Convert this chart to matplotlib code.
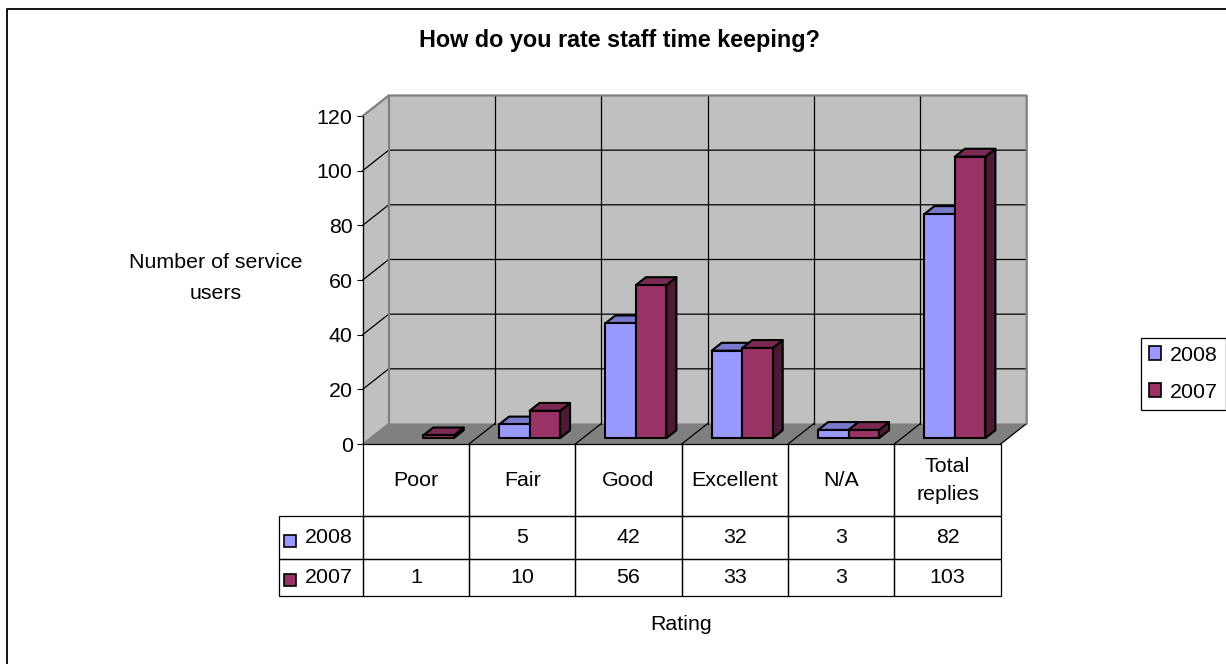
import numpy as np
import matplotlib
matplotlib.use('Agg')
import matplotlib.pyplot as plt
from matplotlib.patches import Polygon, Patch
from matplotlib.lines import Line2D

plt.rcParams['font.family'] = ['Liberation Sans', 'DejaVu Sans']

categories = ['Poor', 'Fair', 'Good', 'Excellent', 'N/A', 'Total\nreplies']
series_names = ['2008', '2007']
values_2008 = [np.nan, 5, 42, 32, 3, 82]
values_2007 = [1, 10, 56, 33, 3, 103]
y_ticks = [0, 20, 40, 60, 80, 100, 120]

colours_2008 = ['#9999FF', '#7A7ACC', '#5C5C99']
colours_2007 = ['#993366', '#7A2952', '#4D1A33']

W, H = 1226, 664
# front plane of the plot in pixels
LEFT, RIGHT, TOP, BOTTOM = 362.7, 1000.7, 116.0, 444.0
# how far the back wall sits behind the front plane
DEPTH_PX_X, DEPTH_PX_Y = 26.0, 20.5
FONT = 15.4


def fx(px):
    return px/W


def fy(py):
    return 1 - py/H


fig = plt.figure(figsize=(W/100, H/100), dpi=100)
ax = fig.add_axes([fx(LEFT), fy(BOTTOM), (RIGHT-LEFT)/W, (BOTTOM-TOP)/H])
ax.set_xlim(0, len(categories))
ax.set_ylim(0, 120)
ax.patch.set_visible(False)

DX = DEPTH_PX_X/((RIGHT-LEFT)/len(categories))
DY = DEPTH_PX_Y/((BOTTOM-TOP)/120)


def proj(x, v, d):
    return (x + d*DX, v + d*DY)


def face(points, colour, z, lw=1.5):
    ax.add_patch(Polygon([proj(*p) for p in points], closed=True, facecolor=colour,
                         edgecolor='black', linewidth=lw, joinstyle='round', zorder=z, clip_on=False))


n = len(categories)

# walls and floor
for pts, colour in [([(0, 0, 1), (n, 0, 1), (n, 120, 1), (0, 120, 1)], '#C0C0C0'),
                    ([(0, 0, 0), (0, 120, 0), (0, 120, 1), (0, 0, 1)], '#C0C0C0'),
                    ([(0, 0, 0), (n, 0, 0), (n, 0, 1), (0, 0, 1)], '#808080')]:
    ax.add_patch(Polygon([proj(*p) for p in pts], closed=True, facecolor=colour,
                         edgecolor='none', zorder=1, clip_on=False))

# gridlines
for t in y_ticks[1:-1]:
    xs, ys = zip(proj(0, t, 0), proj(0, t, 1), proj(n, t, 1))
    ax.plot(xs, ys, color='black', lw=0.9, zorder=2, clip_on=False)
for i in range(1, n):
    xs, ys = zip(proj(i, 0, 1), proj(i, 120, 1))
    ax.plot(xs, ys, color='black', lw=0.9, zorder=2, clip_on=False)
for i in range(1, n+1):
    xs, ys = zip(proj(i, 0, 0), proj(i, 0, 1))
    ax.plot(xs, ys, color='black', lw=0.9, zorder=2, clip_on=False)

# grey wall edges
xs, ys = zip(proj(0, 120, 0), proj(0, 120, 1), proj(n, 120, 1), proj(n, 0, 1))
ax.plot(xs, ys, color='#808080', lw=1.6, zorder=3, clip_on=False)
xs, ys = zip(proj(0, 120, 1), proj(0, 0, 1))
ax.plot(xs, ys, color='#808080', lw=1.6, zorder=3, clip_on=False)
xs, ys = zip(proj(0, 0, 0), proj(0, 0, 1))
ax.plot(xs, ys, color='#808080', lw=1.0, zorder=3, clip_on=False)

# bars
gap, bar_w = 0.2125, 0.2869
d0, d1 = 0.285, 0.67
z = 5
for i in range(n):
    for k, (vals, cols) in enumerate([(values_2008, colours_2008), (values_2007, colours_2007)]):
        v = vals[i]
        if np.isnan(v):
            continue
        x0 = i + gap + k*bar_w
        x1 = x0 + bar_w
        face([(x1, 0, d0), (x1, 0, d1), (x1, v, d1), (x1, v, d0)], cols[2], z)
        face([(x0, v, d0), (x1, v, d0), (x1, v, d1), (x0, v, d1)], cols[1], z)
        face([(x0, 0, d0), (x1, 0, d0), (x1, v, d0), (x0, v, d0)], cols[0], z)
        z += 1

# value axis
for s in ['top', 'right', 'bottom']:
    ax.spines[s].set_visible(False)
ax.spines['left'].set_linewidth(0.9)
ax.spines['left'].set_zorder(4)
ax.set_xticks([])
ax.set_yticks(y_ticks)
ax.tick_params(axis='y', length=4.2, width=0.8, pad=3, labelsize=FONT)

# data table
col_w = 1/n
label_w = (LEFT-278.5)/(RIGHT-LEFT)
row_h = np.array([516.3-444.0, 558.7-516.3, 596.0-558.7])/(BOTTOM-TOP)


def cell_text(vals):
    return ['' if np.isnan(v) else str(int(v)) for v in vals]


# the bbox of a table only covers the main grid, so the label column hangs off to the left.
# rowLabels= would auto size that column, add the cells by hand instead
tab = ax.table(cellText=[cell_text(values_2008), cell_text(values_2007)],
               colLabels=categories, cellLoc='center',
               bbox=[0, -row_h.sum(), 1, row_h.sum()], zorder=3)
for r, name in enumerate(series_names):
    tab.add_cell(r+1, -1, width=label_w, height=row_h[r+1], text=name, loc='left')
tab.auto_set_font_size(False)
tab.set_fontsize(FONT)
for (r, c), cell in tab.get_celld().items():
    cell.set_linewidth(0.9)
    cell.set_facecolor('none')
    cell.set_height(row_h[r])
    cell.get_text().set_linespacing(1.58)
    if c == -1:
        cell.set_width(label_w)
        cell.PAD = 0.315
    else:
        cell.set_width(col_w)

# legend keys inside the table
key_x = (290.3-LEFT)/(RIGHT-LEFT)
for key_py, cols in [(540.7, colours_2008), (580.3, colours_2007)]:
    ax.plot([key_x], [(BOTTOM-key_py)/(BOTTOM-TOP)], marker='s', ms=8.6, mfc=cols[0], mec='black',
            mew=1.2, transform=ax.transAxes, clip_on=False, zorder=6, ls='none')

# text
fig.text(fx(619.5), fy(40), 'How do you rate staff time keeping?', fontsize=16.8, fontweight='bold',
         ha='center', va='center')
fig.text(fx(216), fy(263), 'Number of service', fontsize=FONT, ha='center', va='center')
fig.text(fx(216), fy(294), 'users', fontsize=FONT, ha='center', va='center')
fig.text(fx(681), fy(624), 'Rating', fontsize=FONT, ha='center', va='center')

# legend
handles = [Patch(facecolor=colours_2008[0], edgecolor='black', linewidth=1.2),
           Patch(facecolor=colours_2007[0], edgecolor='black', linewidth=1.2)]
leg = fig.legend(handles, series_names, loc='upper left', bbox_to_anchor=(fx(1140.7), fy(337.5)),
                 fontsize=FONT, fancybox=False, edgecolor='black', framealpha=1,
                 handlelength=0.59, handleheight=0.59, handletextpad=0.38, borderpad=0.38,
                 labelspacing=0.84, borderaxespad=0)
leg.get_frame().set_linewidth(0.9)

# outer chart frame, only the top and left edges fall inside the picture
fig.add_artist(Line2D([fx(6.5), fx(6.5), 1], [0, fy(8.5), fy(8.5)], color='black', lw=1.3,
                      transform=fig.transFigure))

fig.savefig('out.png', dpi=100)
